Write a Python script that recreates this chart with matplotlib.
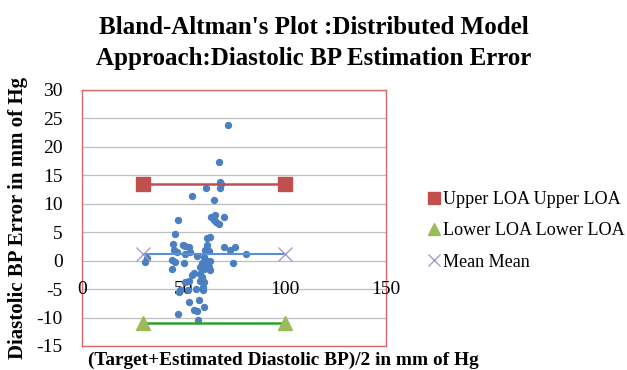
import matplotlib
matplotlib.use("Agg")
import matplotlib.pyplot as plt
from matplotlib.lines import Line2D

# Data
mean_x = [72.0, 67.8, 68.3, 68.8, 61.2, 68.3, 54.1, 65.1, 63.8, 65.8, 70.2, 65.0, 66.3, 67.4,
          47.5, 46.1, 63.0, 61.7, 44.7, 49.7, 51.0, 52.6, 69.9, 75.7, 61.7, 45.2, 46.9, 51.0,
          53.5, 60.9, 62.5, 73.2, 81.1, 56.7, 32.1, 31.3, 44.4, 46.1, 50.2, 60.4, 61.7, 63.3,
          60.9, 62.5, 59.2, 58.4, 60.0, 74.5, 44.4, 63.3, 55.1, 54.3, 58.4, 59.2, 52.6, 58.4,
          60.0, 51.0, 59.7, 56.4, 59.7, 47.7, 48.5, 52.3, 57.6, 52.6, 60.0, 55.1, 56.7, 47.2,
          57.4]
diff_y = [23.9, 17.4, 13.8, 13.5, 12.7, 12.7, 11.3, 10.6, 7.7, 8.0, 7.6, 7.1, 6.8, 6.4,
          7.1, 4.6, 4.2, 3.9, 2.9, 2.7, 2.6, 2.4, 2.4, 2.4, 2.7, 1.8, 1.5, 1.2,
          1.5, 1.8, 1.7, 1.8, 1.2, 0.9, 0.4, -0.2, 0.1, -0.2, -0.5, 0.6, 0.0, 0.0,
          -0.8, -1.1, -0.5, -1.1, -1.4, -0.5, -1.4, -1.6, -2.2, -2.6, -2.3, -2.9, -3.5, -3.5,
          -3.8, -3.8, -4.6, -4.9, -5.1, -5.5, -5.2, -5.2, -6.9, -7.3, -8.2, -8.6, -8.9, -9.3,
          -10.4]
loa_x = [30, 100]
upper_loa = [13.5, 13.5]
lower_loa = [-11.0, -11.0]
mean_line = [1.2, 1.2]
xticks = [0, 50, 100, 150]
yticks = [-15, -10, -5, 0, 5, 10, 15, 20, 25, 30]

plt.rcParams['font.family'] = ['Liberation Serif', 'DejaVu Serif']

fig = plt.figure(figsize=(6.27, 3.70), dpi=100)
ax = fig.add_axes([0.1308, 0.0649, 0.4848, 0.6919])

ax.set_xlim(0, 150)
ax.set_ylim(-15, 30)
ax.set_yticks(yticks)
ax.set_yticklabels([str(v) for v in yticks], fontsize=14)
ax.set_xticks([])
ax.grid(axis='y', color='#bfbfbf', linewidth=0.9)
ax.set_axisbelow(True)
for s in ax.spines.values():
    s.set_color('#d9686b')
    s.set_linewidth(1.0)
ax.tick_params(axis='y', length=0, pad=14)

for xv in xticks:
    ax.text(xv, -5, str(xv), ha='center', va='center', fontsize=14)

ax.scatter(mean_x, diff_y, s=28, color='#4a7fc1', zorder=3, linewidths=0)
ax.plot(loa_x, upper_loa, color='#c0504d', linewidth=1.8, marker='s', markersize=9.5, zorder=4)
ax.plot(loa_x, lower_loa, color='#2ca02c', linewidth=1.8, zorder=4)
ax.plot(loa_x, lower_loa, linestyle='none', color='#9bbb59', marker='^', markersize=10, zorder=5)
ax.plot(loa_x, mean_line, color='#5b8fd6', linewidth=1.5, zorder=4)
ax.plot(loa_x, mean_line, linestyle='none', color='#a99bd0', marker='x', markersize=10,
        markeredgewidth=1.0, zorder=5)

fig.text(18 / 627, 0.412, 'Diastolic BP Error in mm of Hg', rotation=90, ha='center', va='center',
         fontsize=15, fontweight='bold')
fig.text(88 / 627, 1 - 365 / 370, '(Target+Estimated Diastolic BP)/2 in mm of Hg', ha='left',
         va='baseline', fontsize=13.9, fontweight='bold')

fig.text(0.5, 1 - 34 / 370, "Bland-Altman's Plot :Distributed Model", ha='center', va='baseline',
         fontsize=18, fontweight='bold')
fig.text(0.5, 1 - 65 / 370, "Approach:Diastolic BP Estimation Error", ha='center', va='baseline',
         fontsize=18, fontweight='bold')

handles = [
    Line2D([], [], linestyle='none', marker='s', color='#c0504d', markersize=8),
    Line2D([], [], linestyle='none', marker='^', color='#9bbb59', markersize=8),
    Line2D([], [], linestyle='none', marker='x', color='#a99bd0', markersize=8),
]
labels = ['Upper LOA Upper LOA', 'Lower LOA Lower LOA', 'Mean Mean']
fig.legend(handles, labels, loc='center left', bbox_to_anchor=(0.668, 1 - 231 / 370), frameon=False,
           fontsize=13.1, handlelength=0.7, handletextpad=0.15, labelspacing=0.78, borderpad=0)

fig.savefig('out.png', dpi=100)
